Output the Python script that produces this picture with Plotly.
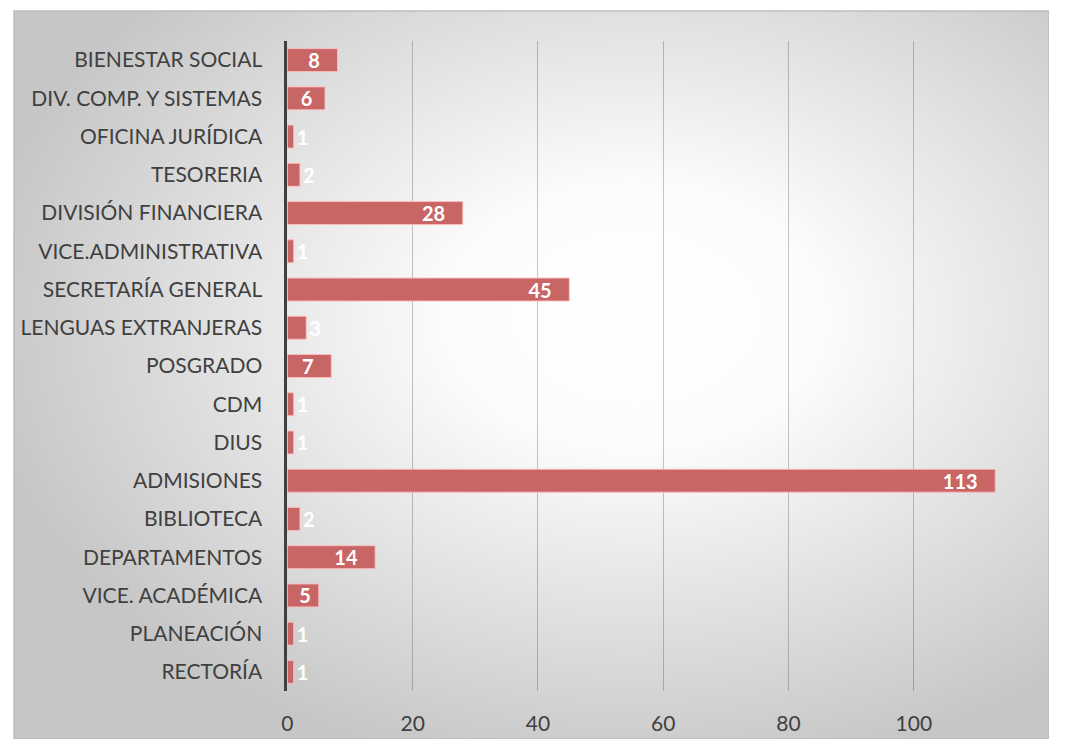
import base64
import plotly.graph_objects as go

categories = ["BIENESTAR SOCIAL", "DIV. COMP. Y SISTEMAS", "OFICINA JURÍDICA", "TESORERIA",
              "DIVISIÓN FINANCIERA", "VICE.ADMINISTRATIVA", "SECRETARÍA GENERAL",
              "LENGUAS EXTRANJERAS", "POSGRADO", "CDM", "DIUS", "ADMISIONES", "BIBLIOTECA",
              "DEPARTAMENTOS", "VICE. ACADÉMICA", "PLANEACIÓN", "RECTORÍA"]
values = [8, 6, 1, 2, 28, 1, 45, 3, 7, 1, 1, 113, 2, 14, 5, 1, 1]
x_ticks = [0, 20, 40, 60, 80, 100, 120]

W, H = 1041, 731
L, T, R = 0, 3, 0
pw, ph = W - L - R, H - T

svg = f'''<svg xmlns="http://www.w3.org/2000/svg" width="{pw}" height="{ph}" viewBox="0 0 {pw} {ph}" preserveAspectRatio="none">
<defs><radialGradient id="g" cx="0.6" cy="0.42" r="0.64" fx="0.6" fy="0.42">
<stop offset="0" stop-color="#ffffff"/><stop offset="0.28" stop-color="#fcfcfc"/><stop offset="1" stop-color="#c6c6c6"/></radialGradient></defs>
<rect x="0" y="0" width="{pw}" height="{ph}" fill="url(#g)"/></svg>'''
src = "data:image/svg+xml;base64," + base64.b64encode(svg.encode()).decode()

# target positions in paper pixels (page offset of 8px removed)
x0_px, x120_px = 275, 1031
top_px, bot_px = 33, 683

textpos = ["inside" if v >= 5 else "outside" for v in values]


def pad(v):
    if v < 5:
        return str(v)
    n = 1 if v < 6 else (2 if v < 7 else 3)
    return str(v) + "\u00a0" * n


labels = [pad(v) for v in values]
lab_font = dict(color="white", size=20, family="Lato", weight="bold")

fig = go.Figure()
fig.add_trace(go.Bar(
    y=categories, x=values, orientation="h",
    marker=dict(color="#C86565", line=dict(color="rgba(255,190,190,0.9)", width=1)),
    width=0.6,
    text=labels, textposition=textpos, insidetextanchor="end", textangle=0,
    textfont=lab_font, insidetextfont=lab_font, outsidetextfont=lab_font,
    constraintext="none", cliponaxis=False,
    hoverinfo="skip",
))

fig.update_layout(
    width=W, height=H,
    margin=dict(l=L, r=R, t=T, b=0, pad=0),
    paper_bgcolor="white", plot_bgcolor="rgba(0,0,0,0)",
    showlegend=False,
    font=dict(family="Lato", color="#404040", size=21),
    images=[dict(source=src, xref="paper", yref="paper", x=0, y=1, sizex=1, sizey=1,
                 sizing="stretch", xanchor="left", yanchor="top", layer="below")],
    shapes=[dict(type="rect", xref="paper", yref="paper", x0=0, x1=1, y0=0, y1=1,
                 line=dict(color="#bdbdbd", width=1.5), layer="above")],
    xaxis=dict(
        domain=[(x0_px - L) / pw, (x120_px - L) / pw],
        range=[0, 120], tickvals=x_ticks, showgrid=True,
        gridcolor="rgba(0,0,0,0.22)", gridwidth=1, zeroline=False,
        showline=False, ticks="outside", ticklen=14, tickcolor="rgba(0,0,0,0)",
        tickfont=dict(size=21, color="#404040"),
    ),
    yaxis=dict(
        domain=[1 - (bot_px - T) / ph, 1 - (top_px - T) / ph],
        autorange="reversed", showgrid=False, zeroline=False,
        showline=True, linecolor="#404040", linewidth=3,
        ticks="outside", ticklen=18, tickcolor="rgba(0,0,0,0)",
        tickfont=dict(size=21, color="#404040"),
    ),
    bargap=0.4,
)

fig.write_html("out.html")
